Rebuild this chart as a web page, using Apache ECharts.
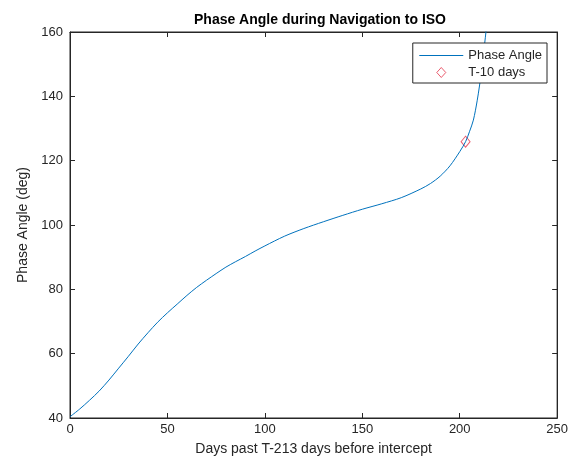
<!DOCTYPE html>
<html>
<head>
<meta charset="utf-8">
<script src="https://cdn.jsdelivr.net/npm/echarts@6/dist/echarts.min.js"></script>
<style>
html,body{margin:0;padding:0;background:#fff;}
#chart{width:571px;height:470px;}
</style>
</head>
<body>
<div id="chart"></div>
<script>
// days after T-213 and the phase angle
var days = [0, 5, 10, 15, 20, 25, 30, 35, 40, 45, 50, 55, 60, 65, 70, 75, 80, 85, 90, 95,
  100, 110, 120, 130, 140, 150, 160, 170, 180, 185, 190, 195, 200, 203, 205, 207, 209, 211, 213, 214];
var phase = [40.4, 42.8, 45.5, 48.4, 51.8, 55.5, 59.2, 63.0, 66.5, 69.8, 72.7, 75.4, 78.1, 80.6, 82.8, 84.9, 86.9, 88.6, 90.2, 91.9,
  93.5, 96.5, 98.9, 101.0, 103.0, 104.9, 106.6, 108.5, 111.2, 112.9, 115.2, 118.4, 122.8, 125.9, 129.0, 132.6, 138.8, 147.0, 157.5, 163.0];
var markDay = [203];
var markPhase = [125.9];
var xTicks = [0, 250, 50];
var yTicks = [40, 160, 20];

var axisCol = '#262626';
var lineCol = '#0072BD';
var markCol = '#e5344b';
var font = 'Liberation Sans, Arial, sans-serif';
var chart = echarts.init(document.getElementById('chart'));

var lineData = days.map(function (d, i) { return [d, phase[i]]; });
var markData = markDay.map(function (d, i) { return [d, markPhase[i]]; });

function baseAxis(extra) {
  var a = {
    axisLine: { show: true, onZero: false, lineStyle: { color: axisCol, width: 1 } },
    axisTick: { show: true, inside: true, length: 5, lineStyle: { color: axisCol } },
    splitLine: { show: false },
    axisLabel: { color: axisCol, fontFamily: font, fontSize: 13 }
  };
  for (var k in extra) a[k] = extra[k];
  return a;
}

// diamond centred in a 44x11 box so the legend does not stretch it
var diamondIcon = 'path://M0,0L0.01,0M44,11L44.01,11M22,0.5L26.5,5.5L22,10.5L17.5,5.5Z';

option = {
  animation: false,
  backgroundColor: '#fff',
  title: {
    text: 'Phase Angle during Navigation to ISO',
    left: 315,
    top: 8,
    textAlign: 'center',
    textStyle: { color: '#000', fontSize: 14, fontWeight: 'bold', fontFamily: font }
  },
  legend: {
    orient: 'vertical',
    right: 24,
    top: 43,
    padding: [6, 5, 4, 6],
    itemGap: 4,
    itemWidth: 44,
    itemHeight: 11,
    backgroundColor: '#fff',
    borderColor: axisCol,
    borderWidth: 1,
    borderRadius: 0,
    textStyle: { color: axisCol, fontSize: 13, fontFamily: font },
    data: [
      { name: 'Phase Angle', itemStyle: { opacity: 0 }, lineStyle: { width: 1, color: lineCol } },
      { name: 'T-10 days', icon: diamondIcon, itemStyle: { color: 'rgba(255,255,255,0)', borderColor: markCol, borderWidth: 1 } }
    ]
  },
  grid: {
    left: 70, right: 12, top: 32, bottom: 52,
    show: true, borderColor: axisCol, borderWidth: 1, backgroundColor: '#fff'
  },
  xAxis: [
    baseAxis({
      type: 'value', min: xTicks[0], max: xTicks[1], interval: xTicks[2],
      name: 'Days past T-213 days before intercept',
      nameLocation: 'middle', nameGap: 24,
      nameTextStyle: { color: axisCol, fontSize: 14, fontFamily: font },
      axisLabel: { color: axisCol, fontFamily: font, fontSize: 13, margin: 5 }
    }),
    baseAxis({
      type: 'value', position: 'top', min: xTicks[0], max: xTicks[1], interval: xTicks[2],
      axisLabel: { show: false }
    })
  ],
  yAxis: [
    baseAxis({
      type: 'value', min: yTicks[0], max: yTicks[1], interval: yTicks[2],
      name: 'Phase Angle (deg)',
      nameLocation: 'middle', nameGap: 40,
      nameTextStyle: { color: axisCol, fontSize: 14, fontFamily: font },
      axisLabel: { color: axisCol, fontFamily: font, fontSize: 13, margin: 7 }
    }),
    baseAxis({
      type: 'value', position: 'right', min: yTicks[0], max: yTicks[1], interval: yTicks[2],
      axisLabel: { show: false }
    })
  ],
  series: [
    {
      name: 'Phase Angle',
      type: 'line',
      data: lineData,
      smooth: 0.3,
      symbol: 'none',
      clip: true,
      lineStyle: { color: lineCol, width: 1 },
      itemStyle: { color: lineCol }
    },
    {
      name: 'T-10 days',
      type: 'scatter',
      data: markData,
      symbol: 'diamond',
      symbolSize: [9, 11],
      itemStyle: { color: 'rgba(255,255,255,0)', borderColor: markCol, borderWidth: 1 }
    }
  ]
};

chart.setOption(option);
</script>
</body>
</html>
